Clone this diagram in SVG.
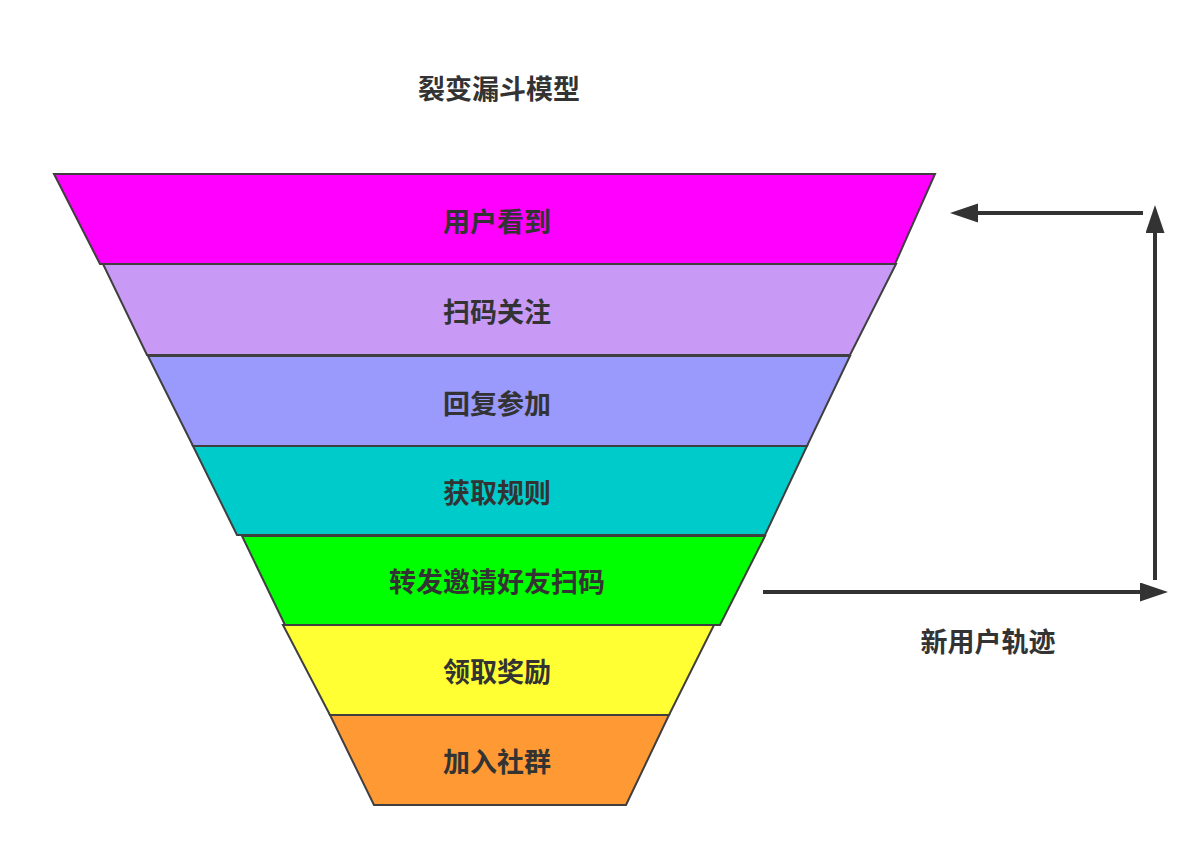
<svg xmlns="http://www.w3.org/2000/svg" width="1186" height="843" viewBox="0 0 1186 843">
  <defs>
    <style>
      .band { stroke: #3f3f3f; stroke-width: 2; stroke-linejoin: miter; }
      .lbl { font-family: "Noto Sans CJK SC", "Noto Sans", sans-serif; font-weight: bold; font-size: 27px; fill: #333333; text-anchor: middle; dominant-baseline: central; }
      .conn { stroke: #333333; stroke-width: 4; fill: none; }
    </style>
    <marker id="arrow" markerUnits="userSpaceOnUse" markerWidth="30" markerHeight="20" refX="8" refY="9.5" orient="auto">
      <path d="M0,0 L28,9.5 L0,19 Z" fill="#333333"/>
    </marker>
  </defs>
  <rect width="1186" height="843" fill="#ffffff"/>

  <g id="title">
    <text class="lbl" x="499" y="87">裂变漏斗模型</text>
  </g>

  <g id="band1">
    <polygon class="band" fill="#ff00ff" points="54,174 935,174 895,264 100,264"/>
    <text class="lbl" x="497" y="220">用户看到</text>
  </g>
  <g id="band2">
    <polygon class="band" fill="#c89af6" points="103,264 896,264 850,355 147,355"/>
    <text class="lbl" x="497" y="310">扫码关注</text>
  </g>
  <g id="band3">
    <polygon class="band" fill="#9a99fc" points="148,356 850,356 807,446 193,446"/>
    <text class="lbl" x="497" y="402">回复参加</text>
  </g>
  <g id="band4">
    <polygon class="band" fill="#00cbcb" points="193,446 807,446 765,535 237,535"/>
    <text class="lbl" x="497" y="491">获取规则</text>
  </g>
  <g id="band5">
    <polygon class="band" fill="#00ff00" points="242,536 765,536 720,625 285,625"/>
    <text class="lbl" x="497" y="580">转发邀请好友扫码</text>
  </g>
  <g id="band6">
    <polygon class="band" fill="#ffff33" points="283,625 714,625 669,715 330,715"/>
    <text class="lbl" x="497" y="670">领取奖励</text>
  </g>
  <g id="band7">
    <polygon class="band" fill="#ff9933" points="330,715 669,715 626,805 374,805"/>
    <text class="lbl" x="497" y="760">加入社群</text>
  </g>

  <g id="connectors">
    <line class="conn" x1="763" y1="592" x2="1148" y2="592" marker-end="url(#arrow)"/>
    <line class="conn" x1="1155" y1="580" x2="1155" y2="225" marker-end="url(#arrow)"/>
    <line class="conn" x1="1143" y1="213" x2="970" y2="213" marker-end="url(#arrow)"/>
  </g>

  <g id="track-label">
    <text class="lbl" x="988" y="640">新用户轨迹</text>
  </g>
</svg>
